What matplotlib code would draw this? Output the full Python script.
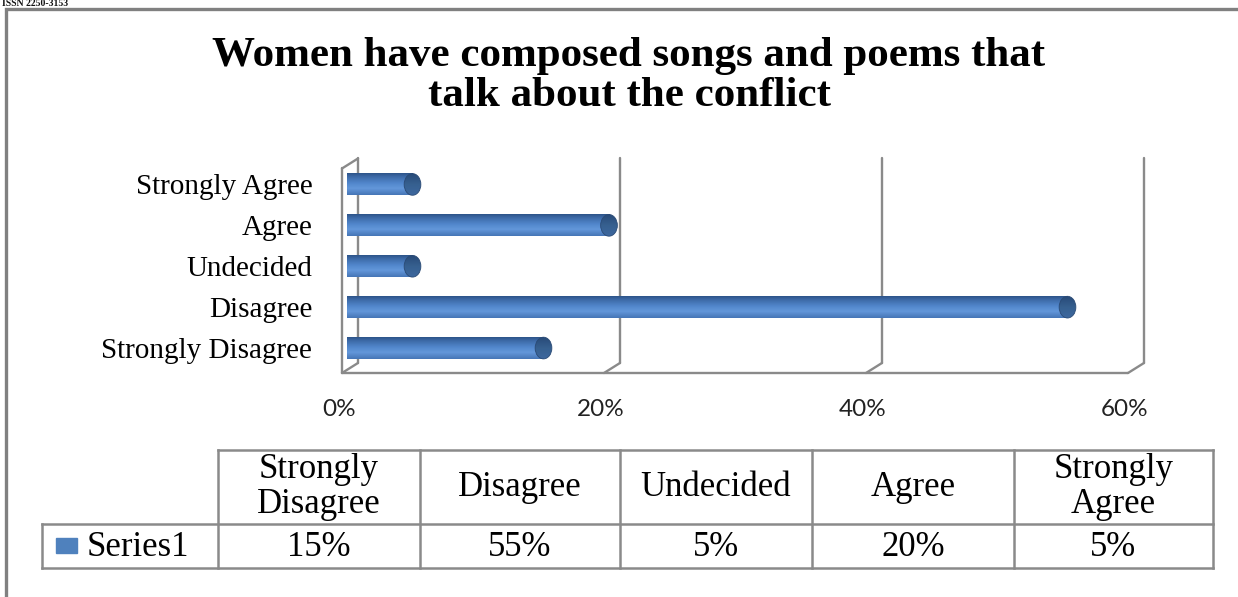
import matplotlib
matplotlib.use("Agg")
import matplotlib.pyplot as plt
import numpy as np
from matplotlib.patches import Ellipse, Rectangle
from matplotlib.transforms import ScaledTranslation, blended_transform_factory
from matplotlib.colors import LinearSegmentedColormap

# ---- data ----
categories = ["Strongly Disagree", "Disagree", "Undecided", "Agree", "Strongly Agree"]
values = [0.15, 0.55, 0.05, 0.20, 0.05]
value_labels = ["15%", "55%", "5%", "20%", "5%"]
header_labels = ["Strongly\nDisagree", "Disagree", "Undecided", "Agree", "Strongly\nAgree"]
x_ticks = [0.0, 0.2, 0.4, 0.6]
x_tick_labels = ["0%", "20%", "40%", "60%"]
series_name = "Series1"
title_lines = ["Women have composed songs and poems that", "talk about the conflict"]

W, H, DPI = 1238, 597, 100
SERIF = "Liberation Serif"
FRAME = "#8a8a8a"

fig = plt.figure(figsize=(W / DPI, H / DPI), dpi=DPI)
fig.patch.set_facecolor("white")

def px(x0, y0, w, h):
    """figure-fraction rect from pixel box (top-left origin)"""
    return [x0 / W, 1 - (y0 + h) / H, w / W, h / H]

# ---- bar chart (plane of the bars) ----
ax = fig.add_axes(px(347, 164, 786, 204.5))
ax.set_xlim(0, 0.6)
ax.set_ylim(-0.5, 4.5)
for s in ax.spines.values():
    s.set_visible(False)
ax.patch.set_alpha(0)

bar_h = 0.53
cap_w = 0.0085
cmap = LinearSegmentedColormap.from_list(
    "cyl", [(0.0, "#4676B6"), (0.3, "#6397DA"), (0.55, "#5186CB"),
            (0.85, "#3C69A6"), (1.0, "#2D5489")])
cap_cmap = LinearSegmentedColormap.from_list(
    "cap", [(0.0, "#3D679E"), (0.5, "#36608F"), (1.0, "#284A78")])
grad = np.linspace(0, 1, 64).reshape(-1, 1)

yb = np.arange(len(categories))
for y, v in zip(yb, values):
    y0, y1 = y - bar_h / 2, y + bar_h / 2
    # rounded back end
    back = Ellipse((0, y), cap_w, bar_h, transform=ax.transData)
    im0 = ax.imshow(grad, cmap=cmap, aspect="auto", extent=[-cap_w / 2, 0.001, y1, y0],
                    interpolation="bilinear", zorder=3)
    im0.set_clip_path(back)
    # body
    ax.imshow(grad, cmap=cmap, aspect="auto", extent=[0, v, y1, y0],
              interpolation="bilinear", zorder=3)
    # front end cap
    cap = Ellipse((v, y), cap_w * 1.5, bar_h, transform=ax.transData)
    im1 = ax.imshow(grad, cmap=cap_cmap, aspect="auto",
                    extent=[v - cap_w, v + cap_w, y1, y0],
                    interpolation="bilinear", zorder=4)
    im1.set_clip_path(cap)
    ax.add_patch(Ellipse((v, y), cap_w * 1.5, bar_h, fill=False,
                         ec="#2a4a75", lw=0.6, zorder=5))

ax.set_yticks(yb)
ax.set_yticklabels(categories, fontsize=21, family=SERIF)
ax.tick_params(axis="y", length=0, pad=25)
ax.set_xticks(x_ticks)
ax.set_xticklabels(x_tick_labels, fontsize=17.5, family="Lato", color="#222222")
ax.tick_params(axis="x", length=0, pad=22)
for lab in ax.get_xticklabels():
    lab.set_transform(lab.get_transform() + ScaledTranslation(-8 / DPI, 0, fig.dpi_scale_trans))
ax.set_xlim(0, 0.6)

# 3-D style frame: back wall gridlines, floor and left wall
bt = blended_transform_factory(ax.transData, ax.transAxes)
back_t = bt + ScaledTranslation(11 / DPI, 0, fig.dpi_scale_trans)
front_t = bt + ScaledTranslation(-5 / DPI, 0, fig.dpi_scale_trans)
top_b, floor_b, floor_f = 1.027, 0.027, -0.022
top_f = top_b - 10 / 204.5
lk = dict(color=FRAME, lw=1.7, solid_capstyle="round", clip_on=False, zorder=1)
for xv in x_ticks:
    ax.plot([xv, xv], [top_b, floor_b], transform=back_t, **lk)
    p_back = back_t.transform((xv, floor_b))
    p_front = front_t.transform((xv, floor_f))
    ax.plot([p_back[0], p_front[0]], [p_back[1], p_front[1]], transform=None, **lk)
ax.plot([x_ticks[0], x_ticks[-1]], [floor_f, floor_f], transform=front_t, **lk)
ax.plot([0, 0], [top_f, floor_f], transform=front_t, **lk)
p1 = front_t.transform((0, top_f))
p2 = back_t.transform((0, top_b))
ax.plot([p1[0], p2[0]], [p1[1], p2[1]], transform=None, **lk)

# ---- overlay in pixel space: border, title, data table ----
ov = fig.add_axes([0, 0, 1, 1], zorder=-1)
ov.set_xlim(0, W)
ov.set_ylim(H, 0)
ov.axis("off")
ov.patch.set_alpha(0)

# page header fragment and chart border
ov.text(2, 6.5, "ISSN 2250-3153", fontsize=7, family=SERIF, fontweight="bold",
        va="baseline", ha="left", color="#111111")
ov.plot([6, 6, W + 5], [H + 5, 9, 9], color="#808080", lw=2.4, solid_joinstyle="miter")

for line, base in zip(title_lines, [66, 106]):
    ov.text(629, base, line, fontsize=31, family=SERIF, fontweight="bold",
            ha="center", va="baseline", color="black")

tk = dict(color=FRAME, lw=1.8)
col_edges = [218, 420, 620, 812, 1014, 1213]
ov.plot([col_edges[0], col_edges[-1]], [450, 450], **tk)
ov.plot([42, col_edges[-1]], [524, 524], **tk)
ov.plot([42, col_edges[-1]], [568, 568], **tk)
ov.plot([42, 42], [524, 568], **tk)
for xe in col_edges:
    ov.plot([xe, xe], [450, 568], **tk)

for i, (hd, vl) in enumerate(zip(header_labels, value_labels)):
    cx = (col_edges[i] + col_edges[i + 1]) / 2
    ov.text(cx, 487, hd, fontsize=25, family=SERIF, ha="center", va="center",
            linespacing=1.05)
    ov.text(cx, 547, vl, fontsize=25, family=SERIF, ha="center", va="center")

ov.add_patch(Rectangle((56, 538), 21, 15, color="#4F81BD"))
ov.text(87, 547, series_name, fontsize=25, family=SERIF, ha="left", va="center")

fig.savefig("out.png", dpi=DPI, facecolor="white")
